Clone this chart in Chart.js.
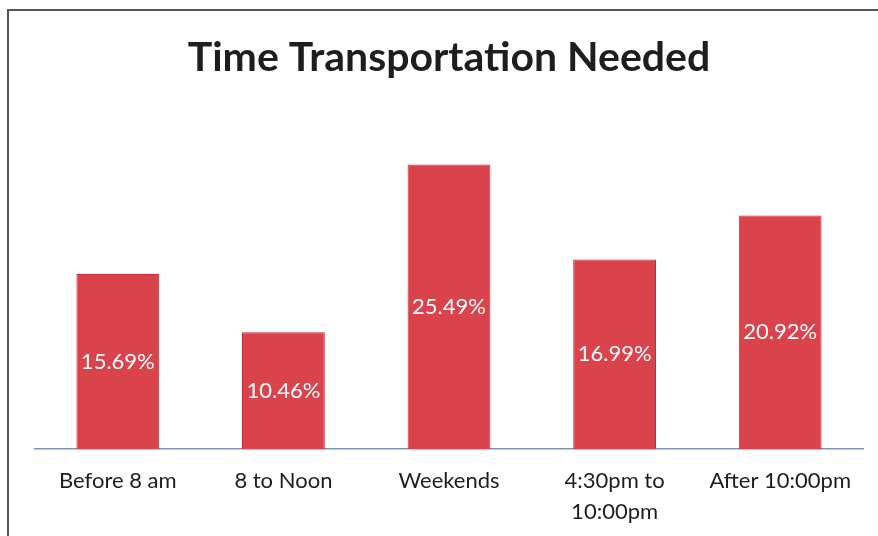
<!DOCTYPE html>
<html>
<head>
<meta charset="utf-8">
<script src="https://cdn.jsdelivr.net/npm/chart.js@4.4.0/dist/chart.umd.min.js"></script>
<style>
    html, body { margin: 0; padding: 0; background: #ffffff; }
    #wrap { position: relative; width: 878px; height: 536px; overflow: hidden; }
    #frame {
        position: absolute; left: 7px; top: 9px; width: 900px; height: 600px;
        border-top: 2px solid #555; border-left: 2px solid #555; box-sizing: border-box;
        pointer-events: none;
    }
</style>
</head>
<body>
<div id="wrap">
    <canvas id="timeChart" width="878" height="536"></canvas>
    <div id="frame"></div>
</div>
<script>
// Data
const categories = ['Before 8 am', '8 to Noon', 'Weekends', ['4:30pm to', '10:00pm'], 'After 10:00pm'];
const percentages = [15.69, 10.46, 25.49, 16.99, 20.92];
const chartTitle = 'Time Transportation Needed';

// Writes the value in the middle of each bar
const barLabels = {
    id: 'barLabels',
    afterDatasetsDraw(chart) {
        const ctx = chart.ctx;
        const meta = chart.getDatasetMeta(0);
        ctx.save();
        ctx.fillStyle = '#ffffff';
        ctx.font = '22px Lato, "Open Sans", sans-serif';
        ctx.textAlign = 'center';
        ctx.textBaseline = 'middle';
        meta.data.forEach((bar, i) => {
            const midY = (bar.y + bar.base) / 2;
            ctx.fillText(percentages[i].toFixed(2) + '%', bar.x, midY);
        });
        ctx.restore();
    }
};

const ctx = document.getElementById('timeChart').getContext('2d');

new Chart(ctx, {
    type: 'bar',
    data: {
        labels: categories,
        datasets: [{
            data: percentages,
            backgroundColor: '#da434b',
            borderColor: '#cc2a35',
            borderWidth: 1,
            categoryPercentage: 1,
            barPercentage: 0.5
        }]
    },
    options: {
        responsive: false,
        animation: false,
        layout: { padding: { left: 35, right: 15, bottom: 0 } },
        plugins: {
            legend: { display: false },
            tooltip: { enabled: false },
            title: {
                display: true,
                text: chartTitle,
                color: '#1e1e1e',
                font: { family: 'Lato, "Open Sans", sans-serif', size: 41, weight: 'bold', lineHeight: 1.2 },
                padding: { top: 33, bottom: 32 }
            }
        },
        scales: {
            x: {
                grid: { display: false, drawTicks: false },
                border: { color: '#7f93b5', width: 1.5 },
                ticks: {
                    color: '#1e1e1e',
                    padding: 17,
                    maxRotation: 0,
                    autoSkip: false,
                    font: { family: 'Lato, "Open Sans", sans-serif', size: 22, lineHeight: 1.4 }
                },
                afterFit: (scale) => { scale.height = 87; }
            },
            y: {
                display: false,
                min: 0,
                max: 30
            }
        }
    },
    plugins: [barLabels]
});
</script>
</body>
</html>
